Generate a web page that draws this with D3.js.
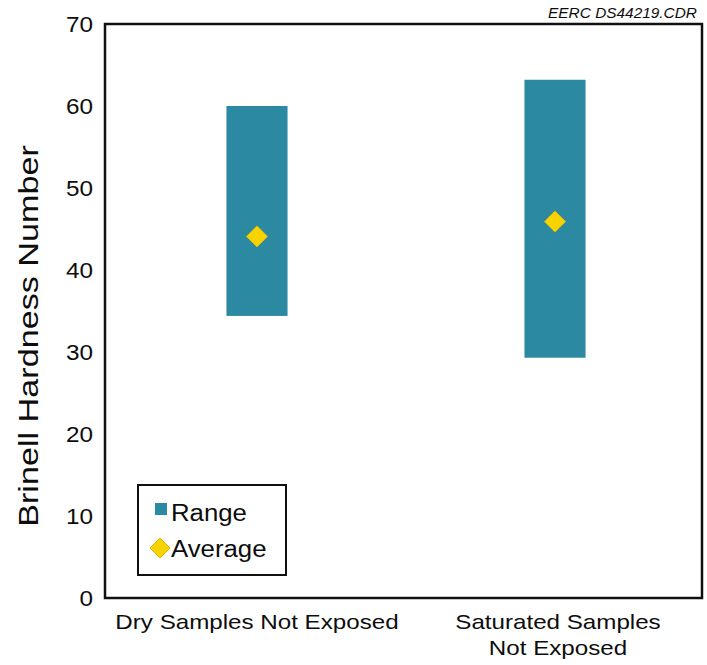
<!DOCTYPE html>
<html>
<head>
<meta charset="utf-8">
<script src="https://cdn.jsdelivr.net/npm/d3@7/dist/d3.min.js"></script>
<style>
  html, body { margin: 0; padding: 0; background: #fff; }
  svg { display: block; font-family: "Liberation Sans", Arial, sans-serif; }
</style>
</head>
<body>
<svg id="chart" width="707" height="665"></svg>
<script>
// ---- data ----
const categories = ["Dry Samples Not Exposed", "Saturated Samples Not Exposed"];
const categoryLines = [["Dry Samples Not Exposed"], ["Saturated Samples", "Not Exposed"]];
const rangeMin = [34.4, 29.3];
const rangeMax = [60.0, 63.2];
const averages = [44.1, 45.9];
const yTicks = [0, 10, 20, 30, 40, 50, 60, 70];
const legendLabels = ["Range", "Average"];
const stampText = "EERC DS44219.CDR";
const yTitle = "Brinell Hardness Number";

// ---- layout ----
const plot = { left: 105, top: 24, right: 702, bottom: 598 };
const STRETCH = 1.13;
const barColor = "#2b8aa1";
const avgColor = "#f7d400";
const textColor = "#0d0d0d";

const svg = d3.select("#chart");

const x = d3.scaleBand().domain(categories)
  .range([plot.left + 3, plot.right + 2]).paddingInner(0.795).paddingOuter(0.3975);
const y = d3.scaleLinear().domain([0, 70]).range([plot.bottom, plot.top]);

function stretch(sel, f) {
  sel.each(function() {
    const n = this.getComputedTextLength();
    d3.select(this).attr("textLength", n * (f || STRETCH)).attr("lengthAdjust", "spacingAndGlyphs");
  });
}

// bars (range)
svg.append("g").selectAll("rect").data(categories).join("rect")
  .attr("x", d => x(d))
  .attr("width", x.bandwidth())
  .attr("y", (d, i) => y(rangeMax[i]))
  .attr("height", (d, i) => y(rangeMin[i]) - y(rangeMax[i]))
  .attr("fill", barColor);

// average diamonds
const diamond = r => `M0,${-r}L${r},0L0,${r}L${-r},0Z`;
svg.append("g").selectAll("path").data(categories).join("path")
  .attr("transform", (d, i) => `translate(${x(d) + x.bandwidth() / 2},${y(averages[i])})`)
  .attr("d", diamond(10.5))
  .attr("fill", avgColor)
  .attr("stroke", "#e8b800")
  .attr("stroke-width", 1);

// plot frame
svg.append("rect")
  .attr("x", plot.left).attr("y", plot.top)
  .attr("width", plot.right - plot.left).attr("height", plot.bottom - plot.top)
  .attr("fill", "none").attr("stroke", "#111").attr("stroke-width", 2.5);

// y axis tick labels
const yAxis = d3.axisLeft(y).tickValues(yTicks).tickSize(0).tickPadding(12);
const gy = svg.append("g").attr("transform", `translate(${plot.left},0)`).call(yAxis);
gy.select(".domain").remove();
gy.selectAll("text").attr("font-size", 21.5).attr("fill", textColor)
  .attr("font-family", "Liberation Sans, Arial, sans-serif")
  .attr("dy", "0.36em").call(stretch);

// x category labels
const gx = svg.append("g");
categories.forEach((c, i) => {
  const cx = x(c) + x.bandwidth() / 2 + (i === 1 ? 3 : 0);
  const t = gx.append("text")
    .attr("x", cx)
    .attr("y", 629)
    .attr("text-anchor", "middle")
    .attr("font-size", 21)
    .attr("fill", textColor);
  categoryLines[i].forEach((line, j) => {
    t.append("tspan").attr("x", cx).attr("dy", j === 0 ? 0 : 26).text(line);
  });
  t.selectAll("tspan").call(stretch, 1.15);
});

// y title
svg.append("text")
  .attr("transform", `translate(38,${(145 + 527) / 2}) rotate(-90)`)
  .attr("text-anchor", "middle")
  .attr("font-size", 28)
  .attr("fill", textColor)
  .text(yTitle)
  .call(stretch, 1.22);

// stamp
svg.append("text")
  .attr("x", 697).attr("y", 18)
  .attr("text-anchor", "end")
  .attr("font-size", 14)
  .attr("font-style", "italic")
  .attr("fill", textColor)
  .text(stampText)
  .call(stretch, 1.1);

// legend
const lg = svg.append("g");
lg.append("rect").attr("x", 138).attr("y", 485).attr("width", 148).attr("height", 90)
  .attr("fill", "#fff").attr("stroke", "#111").attr("stroke-width", 2);
lg.append("rect").attr("x", 155).attr("y", 503).attr("width", 12).attr("height", 12)
  .attr("fill", barColor);
lg.append("path").attr("transform", "translate(160,548)").attr("d", diamond(10))
  .attr("fill", avgColor).attr("stroke", "#e8b800").attr("stroke-width", 1);
lg.selectAll("text.lab").data(legendLabels).join("text").attr("class", "lab")
  .attr("x", 171).attr("y", (d, i) => 521 + i * 36)
  .attr("font-size", 23).attr("fill", textColor)
  .text(d => d).call(stretch, 1.12);
</script>
</body>
</html>
